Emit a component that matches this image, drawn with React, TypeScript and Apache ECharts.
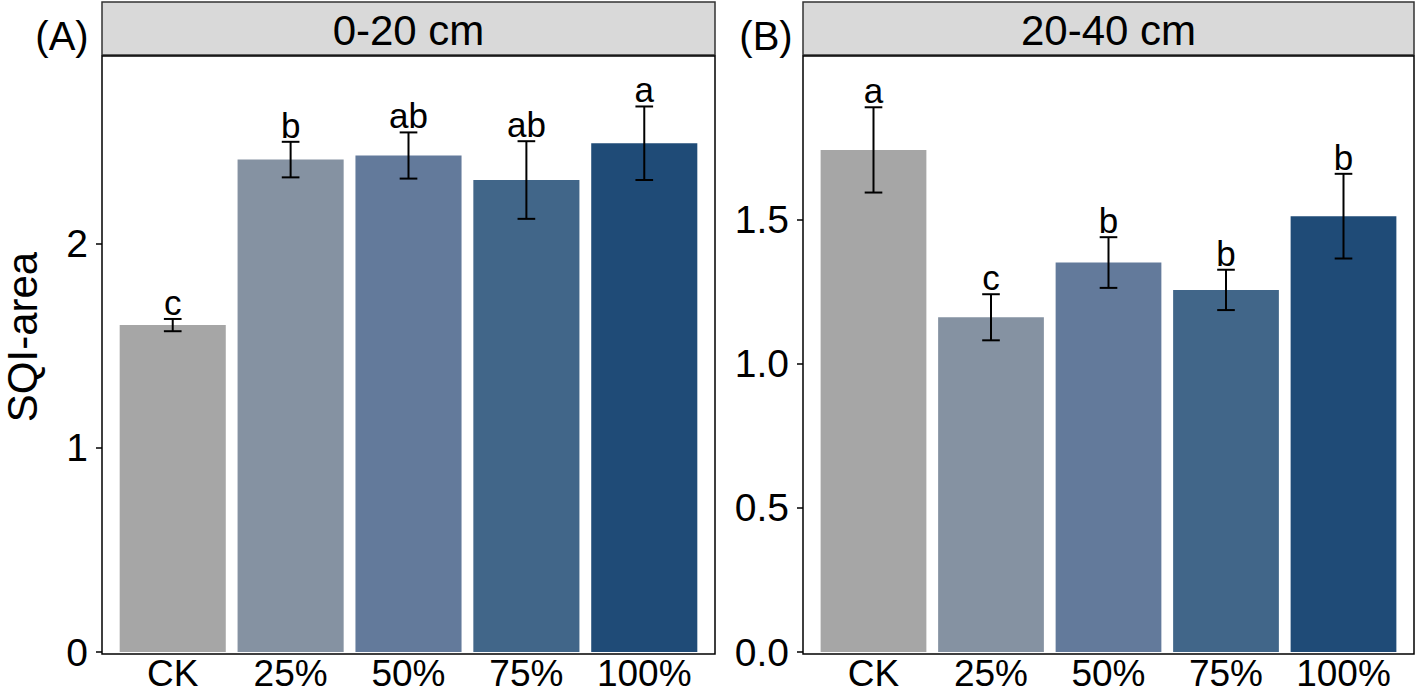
import React, { useEffect, useRef } from 'react';
import * as echarts from 'echarts';

// treatments on the x axis
const categories = ['CK', '25%', '50%', '75%', '100%'];
const barColors = ['#a6a6a6', '#8592a2', '#637a9b', '#416689', '#1f4b77'];

// (A) 0-20 cm
const meansA = [1.6, 2.41, 2.43, 2.31, 2.49];
const errA = [0.03, 0.087, 0.113, 0.19, 0.18];
const lettersA = ['c', 'b', 'ab', 'ab', 'a'];
const ticksA = [0, 1, 2];

// (B) 20-40 cm
const meansB = [1.743, 1.162, 1.352, 1.257, 1.513];
const errB = [0.148, 0.08, 0.088, 0.07, 0.147];
const lettersB = ['a', 'c', 'b', 'b', 'b'];
const ticksB = [0, 0.5, 1, 1.5];

const FONT = '"Liberation Sans", Arial, sans-serif';
const W = 1417;
const H = 696;
const PANEL_TOP = 56;
const PANEL_BOTTOM = 654;
const ZERO_Y = 652;
const STRIP_TOP = 2;

const panels = [
  { left: 102, right: 715, max: 2.917, ticks: ticksA, digits: 0, means: meansA, errs: errA, letters: lettersA, strip: '0-20 cm', tag: '(A)', tagX: 62 },
  { left: 803, right: 1414, max: 2.069, ticks: ticksB, digits: 1, means: meansB, errs: errB, letters: lettersB, strip: '20-40 cm', tag: '(B)', tagX: 766 },
];

const App: React.FC = () => {
  const chartRef = useRef<HTMLDivElement>(null);

  useEffect(() => {
    document.body.style.margin = '0';
    if (!chartRef.current) return;
    const chart = echarts.init(chartRef.current, undefined, { renderer: 'svg' });

    const grids: any[] = [];
    const xAxes: any[] = [];
    const yAxes: any[] = [];
    const series: any[] = [];
    const graphics: any[] = [];

    panels.forEach((p, k) => {
      const width = p.right - p.left;
      const unit = width / 5.2;
      const inset = unit * 0.1;

      grids.push({
        left: p.left + inset,
        top: PANEL_TOP,
        width: width - 2 * inset,
        height: ZERO_Y - PANEL_TOP,
      });

      xAxes.push({
        type: 'category',
        gridIndex: k,
        data: categories,
        offset: PANEL_BOTTOM - ZERO_Y,
        axisLine: { show: false },
        axisTick: { alignWithLabel: true, length: 6, lineStyle: { color: '#000', width: 1.5 } },
        axisLabel: { color: '#000', fontSize: 37, lineHeight: 37, fontFamily: FONT, margin: 1, interval: 0 },
      });

      yAxes.push({
        type: 'value',
        gridIndex: k,
        min: 0,
        max: p.max,
        offset: inset,
        axisLine: { show: false },
        splitLine: { show: false },
        axisTick: { show: true, length: 6, customValues: p.ticks, lineStyle: { color: '#000', width: 1.5 } },
        axisLabel: {
          color: '#000',
          fontSize: 39,
          fontFamily: FONT,
          margin: 14,
          customValues: p.ticks,
          formatter: (v: number) => v.toFixed(p.digits),
        },
      });

      series.push({
        type: 'bar',
        xAxisIndex: k,
        yAxisIndex: k,
        barCategoryGap: '10%',
        data: p.means.map((m, i) => ({ value: m, itemStyle: { color: barColors[i] } })),
      });

      series.push({
        type: 'custom',
        xAxisIndex: k,
        yAxisIndex: k,
        z: 5,
        data: p.means.map((m, i) => [i, m, p.errs[i]]),
        renderItem: (params: any, api: any) => {
          const i = api.value(0);
          const m = api.value(1);
          const s = api.value(2);
          const top = api.coord([i, m + s]);
          const bot = api.coord([i, m - s]);
          const half = api.size([1, 0])[0] * 0.075;
          const style = { stroke: '#000', lineWidth: 2 };
          return {
            type: 'group',
            children: [
              { type: 'line', shape: { x1: top[0], y1: top[1], x2: bot[0], y2: bot[1] }, style },
              { type: 'line', shape: { x1: top[0] - half, y1: top[1], x2: top[0] + half, y2: top[1] }, style },
              { type: 'line', shape: { x1: bot[0] - half, y1: bot[1], x2: bot[0] + half, y2: bot[1] }, style },
              {
                type: 'text',
                x: top[0],
                y: top[1] + 1,
                style: {
                  text: p.letters[params.dataIndex],
                  fill: '#000',
                  fontSize: 35,
                  fontFamily: FONT,
                  align: 'center',
                  verticalAlign: 'bottom',
                },
              },
            ],
          };
        },
      });

      // strip header
      graphics.push({
        type: 'rect',
        z: 50,
        shape: { x: p.left, y: STRIP_TOP, width, height: PANEL_TOP - STRIP_TOP - 1 },
        style: { fill: '#d9d9d9', stroke: '#333333', lineWidth: 1.5 },
      });
      graphics.push({
        type: 'text',
        z: 51,
        x: (p.left + p.right) / 2,
        y: (STRIP_TOP + PANEL_TOP) / 2 + 1,
        style: { text: p.strip, fill: '#000', fontSize: 42, fontFamily: FONT, align: 'center', verticalAlign: 'middle' },
      });
      // panel frame
      graphics.push({
        type: 'rect',
        z: 50,
        shape: { x: p.left, y: PANEL_TOP, width, height: PANEL_BOTTOM - PANEL_TOP },
        style: { fill: 'none', stroke: '#000', lineWidth: 1.5 },
      });
      // panel tag
      graphics.push({
        type: 'text',
        z: 51,
        x: p.tagX,
        y: 36,
        style: { text: p.tag, fill: '#000', fontSize: 40, fontFamily: FONT, align: 'center', verticalAlign: 'middle' },
      });
    });

    graphics.push({
      type: 'text',
      x: 22,
      y: 337,
      rotation: Math.PI / 2,
      style: { text: 'SQI-area', fill: '#000', fontSize: 42, fontFamily: FONT, align: 'center', verticalAlign: 'middle' },
    });

    chart.setOption({
      animation: false,
      backgroundColor: '#fff',
      grid: grids,
      xAxis: xAxes,
      yAxis: yAxes,
      series,
      graphic: graphics,
    });

    return () => {
      chart.dispose();
    };
  }, []);

  return <div ref={chartRef} style={{ width: W, height: H }} />;
};

export default App;
